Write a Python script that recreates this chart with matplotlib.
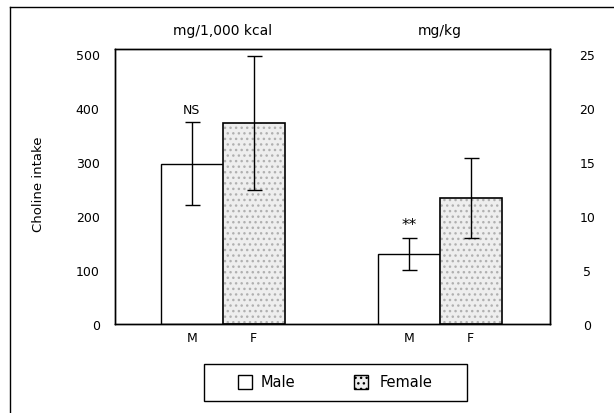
import matplotlib
matplotlib.use("Agg")
import matplotlib.pyplot as plt
from matplotlib.patches import Rectangle
from matplotlib.lines import Line2D
import numpy as np

# Data
groups = ["mg/1,000 kcal", "mg/kg"]
sexes = ["M", "F"]
kcal_means = [297, 372]     # left axis, mg/1,000 kcal
kcal_err = [77, 124]
kg_means = [6.5, 11.7]      # right axis, mg/kg
kg_err = [1.5, 3.7]
left_ticks = [0, 100, 200, 300, 400, 500]
right_ticks = [0, 5, 10, 15, 20, 25]
annotations = ["NS", "**"]
legend_labels = ["Male", "Female"]

plt.rcParams['font.family'] = ['DejaVu Sans']
W, H = 614, 414
fig = plt.figure(figsize=(W / 100, H / 100), dpi=100)
L, R, T, B = 115, 550, 50, 325
ax = fig.add_axes([L / W, 1 - B / H, (R - L) / W, (B - T) / H])
ax2 = ax.twinx()

ytop = 509
scale = 20.0
ax.set_ylim(0, ytop)
ax2.set_ylim(0, ytop / scale)
ax.set_xlim(0, 7.02)

bw = 1.0
centers = [1.74, 5.24]  # boundary between M and F bars of each group
female_face = '#eeeeee'
stipple = '#b0b0b0'

def draw_group(axis, c, means, errs, label_ann, fs):
    xs = [c - bw / 2, c + bw / 2]
    axis.bar(xs[0], means[0], width=bw, facecolor='white', edgecolor='black', linewidth=1.0, zorder=2)
    axis.bar(xs[1], means[1], width=bw, facecolor=female_face, edgecolor=stipple, hatch='...',
             linewidth=0, zorder=2)
    axis.bar(xs[1], means[1], width=bw, facecolor='none', edgecolor='black', linewidth=1.2, zorder=3)
    axis.errorbar(xs, means, yerr=errs, fmt='none', ecolor='black', elinewidth=1.0,
                  capsize=5.4, capthick=1.0, zorder=4)
    axis.annotate(label_ann, (xs[0], means[0] + errs[0]), xytext=(0, 4), textcoords='offset points',
                  ha='center', va='bottom', fontsize=fs)
    return xs

xs1 = draw_group(ax, centers[0], kcal_means, kcal_err, annotations[0], 9)
xs2 = draw_group(ax2, centers[1], kg_means, kg_err, annotations[1], 11)

ax.set_xticks(xs1 + xs2)
ax.set_xticklabels(sexes * 2, fontsize=9)
ax.tick_params(axis='x', length=0, pad=5)

ax.set_yticks(left_ticks)
ax.tick_params(axis='y', length=0, pad=11, labelsize=9)
ax2.set_yticks(right_ticks)
ax2.tick_params(axis='y', length=0, pad=27, labelsize=9)
for lab in ax2.get_yticklabels():
    lab.set_ha('center')

for a in (ax, ax2):
    for s in a.spines.values():
        s.set_linewidth(1.0)
        s.set_color('black')

# Group titles
for c, g in zip(centers, groups):
    ax.text(c, 1.0 + 12 / (B - T), g, transform=ax.get_xaxis_transform(), ha='center', va='bottom',
            fontsize=10)

fig.text(38 / W, 1 - 184 / H, "Choline intake", rotation=90, ha='center', va='center', fontsize=9.5)

# Legend (drawn in figure pixel coordinates)
def px(x, y):
    return (x / W, 1 - y / H)

fig.add_artist(Rectangle(px(204, 402), 263 / W, 37 / H, transform=fig.transFigure,
                         facecolor='white', edgecolor='black', linewidth=1.0))
sq = 14
for (sx, tx), lab, face, hatch in zip([(238, 261), (354, 380)], legend_labels,
                                      ['white', female_face], [None, '...']):
    fig.add_artist(Rectangle(px(sx, 383 + sq / 2), sq / W, sq / H, transform=fig.transFigure,
                             facecolor=face, edgecolor='black', linewidth=1.0, hatch=hatch))
    fig.text(tx / W, 1 - 383 / H, lab, ha='left', va='center', fontsize=10.5)

# Outer frame lines (left and top)
fig.add_artist(Line2D([10 / W, 10 / W], [0, 1 - 8 / H], color='black', lw=1.0, transform=fig.transFigure))
fig.add_artist(Line2D([10 / W, 1], [1 - 8 / H, 1 - 8 / H], color='black', lw=1.0, transform=fig.transFigure))

fig.savefig("out.png", dpi=100)
